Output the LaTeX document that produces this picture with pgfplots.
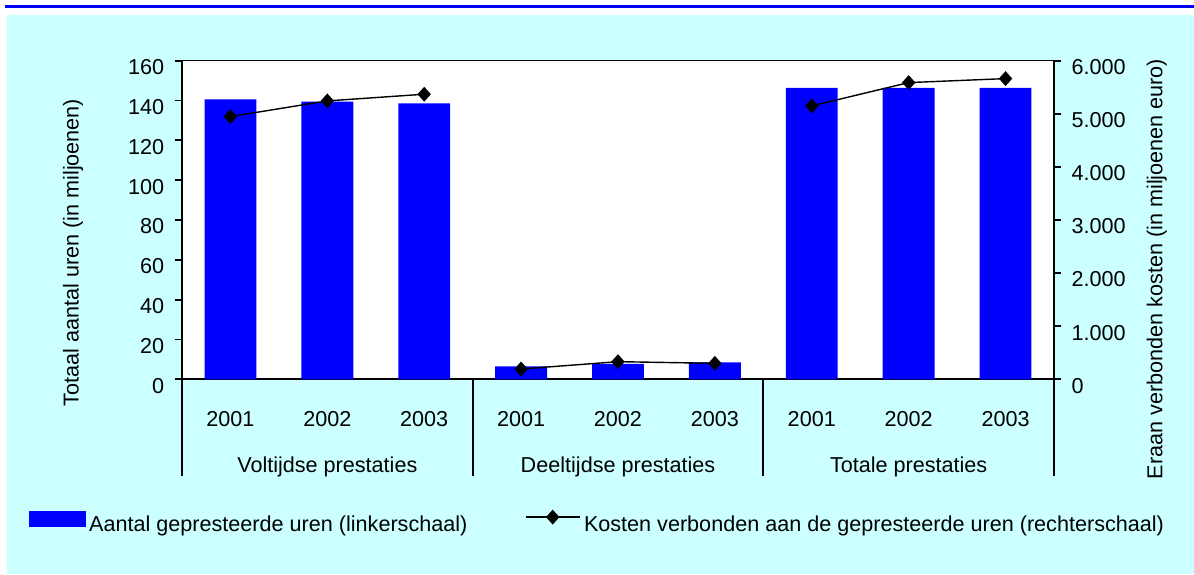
\documentclass[border=0pt]{standalone}
\usepackage{fontspec}
\setmainfont{Liberation Sans}
\usepackage{pgfplots}
\pgfplotsset{compat=1.18}
\definecolor{bgcyan}{RGB}{204,255,255}
\definecolor{barblue}{RGB}{0,0,255}
\newcommand{\cf}{\fontsize{10.8}{13}\selectfont}
\pgfplotsset{
  mylineleg/.style={legend image code/.code={\draw[mark repeat=2,mark phase=2,##1] plot coordinates {(0pt,4pt) (13.6pt,4pt) (27.2pt,4pt)};}},
  mybarleg/.style={legend image code/.code={\fill[barblue] (0pt,-0.5pt) rectangle (28pt,7pt);}},
}

\begin{document}
\begin{tikzpicture}
\path[use as bounding box] (0,0) rectangle (597pt,287pt);
\fill[white] (0,0) rectangle (597pt,287pt);
\fill[bgcyan] (3.5pt,0) rectangle (597pt,279.5pt);
\fill[barblue] (2.5pt,283.1pt) rectangle (597pt,284.3pt);

\begin{axis}[
  at={(91pt,97.35pt)}, anchor=south west,
  scale only axis, width=436pt, height=159.3pt,
  xmin=-0.5, xmax=8.5, ymin=0, ymax=160,
  axis x line*=bottom, axis y line*=left,
  axis background/.style={fill=white},
  axis line style={line width=0.9pt, black},
  ytick={0,20,...,160},
  tick align=outside, major tick length=3.5pt,
  ytick style={line width=0.9pt, black},
  xtick={0,...,8},
  xticklabels={2001,2002,2003,2001,2002,2003,2001,2002,2003},
  xtick style={draw=none},
  tick label style={font=\cf},
  /pgf/number format/assume math mode=true,
  yticklabel style={xshift=-1.9pt, yshift=-3.2pt},
  xticklabel style={anchor=base, yshift=-20.2pt},
  ylabel={Totaal aantal uren (in miljoenen)},
  every axis y label/.style={at={(rel axis cs:-0.1185,0.398)}, anchor=base, rotate=90, font=\cf},
  clip=false,
]
\addplot[ybar, bar width=0.535, fill=barblue, draw=none] coordinates {
  (0,140.6) (1,139.4) (2,138.6) (3,6.5) (4,7.7) (5,8.5) (6,146.4) (7,146.4) (8,146.4)};
\draw[line width=0.5pt] (rel axis cs:0,1) -- (rel axis cs:1,1);
\pgfplotsinvokeforeach{-0.5,2.5,5.5,8.5}{\draw[line width=0.9pt] (axis cs:#1,0) -- ++(0pt,-48.2pt);}
\node[font=\cf, anchor=base] at ([yshift=-46.45pt]axis cs:1,0) {Voltijdse prestaties};
\node[font=\cf, anchor=base] at ([yshift=-46.45pt]axis cs:4,0) {Deeltijdse prestaties};
\node[font=\cf, anchor=base] at ([yshift=-46.45pt]axis cs:7,0) {Totale prestaties};
\end{axis}

\begin{axis}[
  at={(91pt,97.35pt)}, anchor=south west,
  scale only axis, width=436pt, height=159.3pt,
  xmin=-0.5, xmax=8.5, ymin=0, ymax=6000,
  axis x line=none, axis y line*=right,
  axis line style={line width=0.9pt, black},
  ytick={0,1000,...,6000},
  yticklabels={0,1.000,2.000,3.000,4.000,5.000,6.000},
  tick align=outside, major tick length=3.5pt,
  ytick style={line width=0.9pt, black},
  tick label style={font=\cf},
  yticklabel style={xshift=1.8pt, yshift=-3.2pt},
  ylabel={Eraan verbonden kosten (in miljoenen euro)},
  every axis y label/.style={at={(rel axis cs:1.1243,0.3465)}, anchor=base, rotate=90, font=\cf},
  legend columns=2,
  legend cell align=left,
  legend style={at={(rel axis cs:-0.17546,-0.41243)}, anchor=north west,
    draw=none, fill=none, inner sep=0pt, outer sep=0pt, font=\cf,
    nodes={inner sep=0pt},
    /tikz/every odd column/.append style={column sep=1.7pt},
    /tikz/every even column/.append style={column sep=28.7pt}},
  clip=false,
]
\addlegendimage{mybarleg}
\addlegendentry{Aantal gepresteerde uren (linkerschaal)}
\addplot[black, line width=0.7pt, mark=diamond*, mark size=3.2pt, mark options={xscale=1.2, fill=black}, mylineleg]
  coordinates {(0,4948) (1,5243) (2,5369)};
\addlegendentry{Kosten verbonden aan de gepresteerde uren (rechterschaal)}
\addplot[black, line width=0.7pt, mark=diamond*, mark size=3.2pt, mark options={xscale=1.2, fill=black}, forget plot]
  coordinates {(3,194) (4,332) (5,301)};
\addplot[black, line width=0.7pt, mark=diamond*, mark size=3.2pt, mark options={xscale=1.2, fill=black}, forget plot]
  coordinates {(6,5149) (7,5588) (8,5663)};
\end{axis}
\end{tikzpicture}
\end{document}
